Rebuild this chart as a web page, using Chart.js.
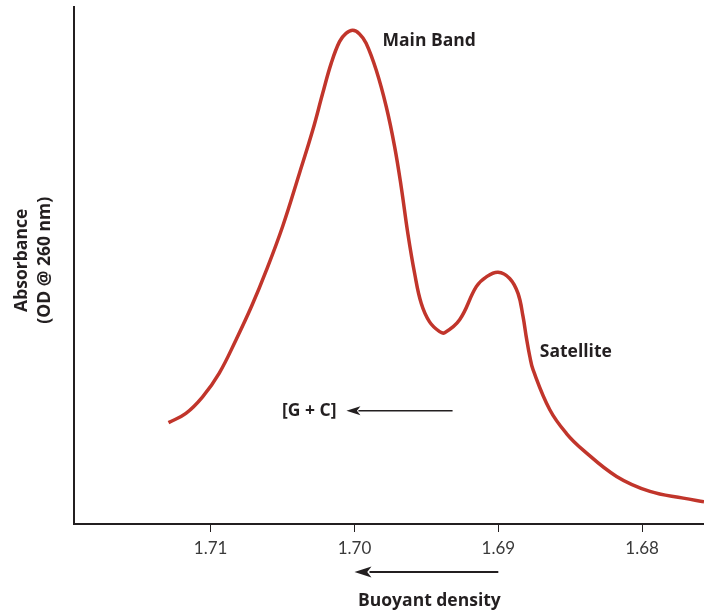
<!DOCTYPE html>
<html>
<head>
<meta charset="utf-8">
<script src="https://cdn.jsdelivr.net/npm/chart.js@4.4.1/dist/chart.umd.min.js"></script>
<style>
  html, body { margin: 0; padding: 0; background: #fff; }
  canvas { display: block; }
</style>
</head>
<body>
<canvas id="bandChart" width="704" height="613"></canvas>
<script>
// buoyant density (g/ml), left to right
const density = [1.71293, 1.71172, 1.71056, 1.70940, 1.70824, 1.70714, 1.70615, 1.70499, 1.70383,
  1.70290, 1.70221, 1.70162, 1.70104, 1.70059, 1.70012, 1.69965, 1.69919, 1.69849, 1.69779,
  1.69721, 1.69675, 1.69629, 1.69582, 1.69536, 1.69478, 1.69408, 1.69373, 1.69269, 1.69153,
  1.69083, 1.69002, 1.68921, 1.68863, 1.68828, 1.68804, 1.68781, 1.68758, 1.68642, 1.68526,
  1.68410, 1.68178, 1.67946, 1.67714, 1.67570];
// absorbance, arbitrary units (0-100)
const absorbance = [19.6, 21.4, 24.6, 29.2, 35.6, 42.2, 48.9, 57.6, 67.8,
  76.2, 83.3, 89.1, 93.3, 94.9, 95.5, 94.8, 93.0, 87.8, 80.7,
  73.0, 65.2, 56.2, 48.5, 42.7, 39.1, 37.2, 37.0, 39.5, 45.9,
  47.8, 48.7, 47.5, 44.6, 40.1, 35.9, 32.4, 29.8, 22.1, 17.5,
  14.3, 9.2, 6.3, 5.0, 4.3];
const tickValues = [1.71, 1.70, 1.69, 1.68];
const tickLabels = ["1.71", "1.70", "1.69", "1.68"];

const xMin = 1.6757, xMax = 1.7195;
const inkColor = "#231f20";
const curveColor = "#c1352b";
const boldFont = "bold 17.5px 'Open Sans', sans-serif";

function arrowLeft(ctx, x1, x2, y, headLen, headH, lw) {
  // shaft from x2 back to tip x1, arrowhead at x1
  ctx.save();
  ctx.strokeStyle = inkColor;
  ctx.fillStyle = inkColor;
  ctx.lineWidth = lw;
  ctx.beginPath();
  ctx.moveTo(x1 + headLen - 2, y);
  ctx.lineTo(x2, y);
  ctx.stroke();
  ctx.beginPath();
  ctx.moveTo(x1, y);
  ctx.lineTo(x1 + headLen, y - headH / 2);
  ctx.lineTo(x1 + headLen * 0.75, y);
  ctx.lineTo(x1 + headLen, y + headH / 2);
  ctx.closePath();
  ctx.fill();
  ctx.restore();
}

const annotations = {
  id: "annotations",
  afterDraw(chart) {
    const { ctx } = chart;
    const xs = chart.scales.x, ys = chart.scales.y;
    ctx.save();
    ctx.fillStyle = inkColor;
    ctx.font = boldFont;
    ctx.textBaseline = "middle";

    // peak labels
    ctx.textAlign = "left";
    ctx.fillText("Main Band", xs.getPixelForValue(1.69805), ys.getPixelForValue(93.5));
    ctx.fillText("Satellite", xs.getPixelForValue(1.68712), ys.getPixelForValue(33.3));

    // [G + C] with arrow
    const gy = ys.getPixelForValue(21.9);
    ctx.textAlign = "right";
    ctx.fillText("[G + C]", xs.getPixelForValue(1.70125), gy);
    arrowLeft(ctx, xs.getPixelForValue(1.70056), xs.getPixelForValue(1.69318), gy, 14, 9, 1.6);

    // x-axis arrow and title
    const ax1 = xs.getPixelForValue(1.70), ax2 = xs.getPixelForValue(1.69);
    arrowLeft(ctx, ax1, ax2, 572, 17, 11, 2);
    ctx.textAlign = "center";
    ctx.fillText("Buoyant density", (ax1 + ax2) / 2 + 3, 601);

    // y-axis title
    ctx.translate(33, ys.getPixelForValue(51));
    ctx.rotate(-Math.PI / 2);
    ctx.fillText("Absorbance", 0, -11);
    ctx.fillText("(OD @ 260 nm)", 0, 12);
    ctx.restore();
  }
};

document.addEventListener("DOMContentLoaded", () => {
  const ctx = document.getElementById("bandChart");
  new Chart(ctx, {
    type: "line",
    data: {
      datasets: [{
        data: density.map((d, i) => ({ x: d, y: absorbance[i] })),
        borderColor: curveColor,
        borderWidth: 3.5,
        pointRadius: 0,
        fill: false,
        tension: 0.4
      }]
    },
    options: {
      responsive: false,
      animation: false,
      layout: { padding: { top: 7, right: 0, left: 0, bottom: 0 } },
      plugins: { legend: { display: false }, tooltip: { enabled: false } },
      scales: {
        x: {
          type: "linear",
          reverse: true,
          min: xMin,
          max: xMax,
          afterBuildTicks(scale) {
            scale.ticks = tickValues.map(v => ({ value: v }));
          },
          afterFit(scale) { scale.height = 89; },
          ticks: {
            padding: 6,
            color: "#3a3a3a",
            font: { family: "Lato, sans-serif", size: 17 },
            callback: (v) => tickLabels[tickValues.indexOf(v)] ?? ""
          },
          grid: { drawOnChartArea: false, drawTicks: true, tickLength: 8, color: inkColor, lineWidth: 1 },
          border: { display: true, color: inkColor, width: 2 }
        },
        y: {
          min: 0,
          max: 100,
          afterFit(scale) { scale.width = 74; },
          ticks: { display: false },
          grid: { display: false },
          border: { display: true, color: inkColor, width: 2 }
        }
      }
    },
    plugins: [annotations]
  });
});
</script>
</body>
</html>
